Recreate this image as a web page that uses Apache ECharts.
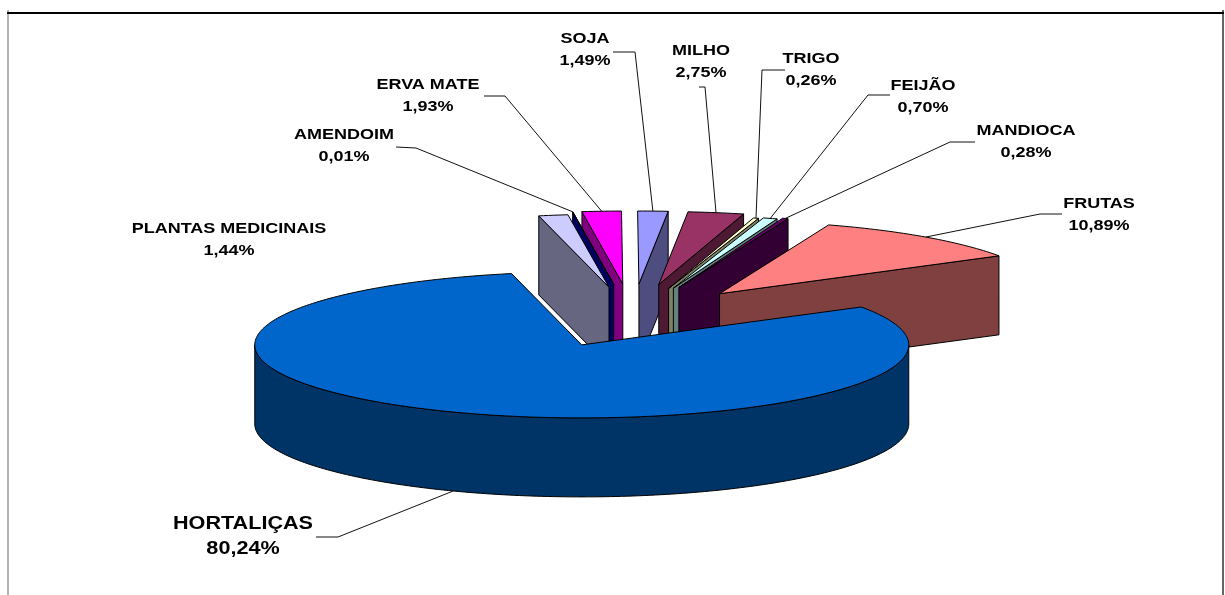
<!DOCTYPE html>
<html>
<head>
<meta charset="utf-8">
<title>Culturas</title>
<style>html,body{margin:0;padding:0;background:#fff}#chart{width:1225px;height:595px}</style>
<script src="https://cdn.jsdelivr.net/npm/echarts@6/dist/echarts.min.js"></script>
</head>
<body>
<div id="chart"></div>
<script>
// Crops in clockwise order, starting from the top of the pie.
var categories = ['PLANTAS MEDICINAIS', 'AMENDOIM', 'ERVA MATE', 'SOJA', 'MILHO', 'TRIGO', 'FEIJÃO', 'MANDIOCA', 'FRUTAS', 'HORTALIÇAS'];
var shares = [1.44, 0.01, 1.93, 1.49, 2.75, 0.26, 0.70, 0.28, 10.89, 80.24];
var shareLabels = ['1,44%', '0,01%', '1,93%', '1,49%', '2,75%', '0,26%', '0,70%', '0,28%', '10,89%', '80,24%'];
var explosion = [0.92, 1, 1, 1, 1, 0.9, 0.92, 0.95, 0.92, 0.86];
var topColors = ['#CCCCFF', '#000080', '#FF00FF', '#9999FF', '#993366', '#FFFFCC', '#CCFFFF', '#660066', '#FF8080', '#0066CC'];
var sideColors = ['#666680', '#000060', '#800080', '#4D4D80', '#4D1933', '#808066', '#668080', '#330033', '#804040', '#003366'];
// Stacking order of the pieces, back to front.
var paintOrder = [2, 1, 0, 3, 4, 5, 6, 7, 8, 9];

// Projection of the tilted pie.
var pie = { cx: 632.5, cy: 318, rx: 327, ry: 73, depth: 79, startAngle: 102.4, shiftX: 150, shiftY: 34 };

// Label centre and the first two points of each leader line.
var labelLayout = [
  { x: 229, y: 240, size: 15, gap: 22 },
  { x: 344, y: 146, size: 15, gap: 22, leader: [[396, 147], [416, 148]] },
  { x: 428, y: 96, size: 15, gap: 22, leader: [[484, 96], [505, 96]] },
  { x: 585, y: 50, size: 15, gap: 22, leader: [[613, 52], [635, 52]] },
  { x: 701, y: 61.5, size: 15, gap: 22, leader: [[699, 87], [705, 87]] },
  { x: 811, y: 70, size: 15, gap: 22, leader: [[785, 70], [762, 70]] },
  { x: 923, y: 97, size: 15, gap: 22, leader: [[890, 95], [868, 95]] },
  { x: 1026, y: 141.5, size: 15, gap: 22, leader: [[975, 142], [950, 142]] },
  { x: 1099, y: 214.5, size: 15, gap: 22, leader: [[1062, 214], [1040, 214]] },
  { x: 243, y: 536.5, size: 18, gap: 25, leader: [[316, 537], [338, 537]] }
];

var DEG = Math.PI / 180;
var total = shares.reduce(function (a, b) { return a + b; }, 0);

function sliceAngles(i) {
  var before = shares.slice(0, i).reduce(function (a, b) { return a + b; }, 0);
  var a0 = pie.startAngle - before / total * 360;
  var a1 = a0 - shares[i] / total * 360;
  return { from: a0, to: a1, mid: (a0 + a1) / 2 };
}
function apexOf(i) {
  var m = sliceAngles(i).mid * DEG;
  return [pie.cx + explosion[i] * pie.shiftX * Math.cos(m), pie.cy - explosion[i] * pie.shiftY * Math.sin(m)];
}
function rimPoint(apex, deg) {
  return [apex[0] + pie.rx * Math.cos(deg * DEG), apex[1] - pie.ry * Math.sin(deg * DEG)];
}
function drop(p) { return [p[0], p[1] + pie.depth]; }

function arcPoints(apex, from, to) {
  var pts = [], n = Math.max(2, Math.ceil(Math.abs(from - to)));
  for (var k = 0; k <= n; k++) pts.push(rimPoint(apex, from + (to - from) * k / n));
  return pts;
}

function poly(points, fill, z2) {
  return { type: 'polygon', shape: { points: points }, z2: z2,
    style: { fill: fill, stroke: '#000', lineWidth: 1, lineJoin: 'round' } };
}

function renderSlice(params, api) {
  var i = api.value(0);
  var z = paintOrder.indexOf(i) * 10 + 1;
  var ang = sliceAngles(i), apex = apexOf(i), kids = [];
  var rimFrom = rimPoint(apex, ang.from), rimTo = rimPoint(apex, ang.to);

  if (ang.mid > 90 && ang.from < 180) {
    // Left of the centre the leading cut face looks at the viewer.
    kids.push(poly([apex, rimFrom, drop(rimFrom), drop(apex)], sideColors[i], z));
  } else if (ang.to > 0) {
    // Right of the centre the trailing cut face does.
    kids.push(poly([apex, rimTo, drop(rimTo), drop(apex)], sideColors[i], z));
  } else {
    // The big slice shows its outer wall along the front half of the rim.
    var wall = arcPoints(apex, -180, 0);
    kids.push(poly(wall.concat(wall.map(drop).reverse()), sideColors[i], z));
  }
  kids.push(poly([apex].concat(arcPoints(apex, ang.from, ang.to)), topColors[i], z + 1));

  var lay = labelLayout[i];
  kids.push({
    type: 'text', z2: 200, x: lay.x, y: lay.y, scaleX: 1.2,
    style: {
      x: 0, y: 0, text: categories[i] + '\n' + shareLabels[i],
      align: 'center', verticalAlign: 'middle', fill: '#000',
      font: 'bold ' + lay.size + 'px "Liberation Sans", Arial, sans-serif',
      lineHeight: lay.gap
    }
  });
  if (lay.leader) {
    var rim = rimPoint(apex, ang.mid);
    if (ang.to < 0) rim = drop(rim);
    kids.push({
      type: 'polyline', z2: 150, shape: { points: lay.leader.concat([rim]) },
      style: { stroke: '#111', lineWidth: 1, fill: null }
    });
  }
  return { type: 'group', children: kids };
}

var chart = echarts.init(document.getElementById('chart'), null, { renderer: 'canvas' });
chart.setOption({
  animation: false,
  backgroundColor: '#fff',
  series: [{
    type: 'custom',
    coordinateSystem: 'none',
    renderItem: renderSlice,
    data: categories.map(function (name, i) { return { name: name, value: [i, shares[i]] }; })
  }],
  graphic: [
    { type: 'line', shape: { x1: 7, y1: 13, x2: 1224, y2: 13 }, style: { stroke: '#000', lineWidth: 2 }, z: 11 },
    { type: 'line', shape: { x1: 8, y1: 10, x2: 8, y2: 595 }, style: { stroke: '#666', lineWidth: 1 }, z: 10 },
    { type: 'line', shape: { x1: 1223, y1: 10, x2: 1223, y2: 595 }, style: { stroke: '#666', lineWidth: 2 }, z: 10 }
  ]
});
</script>
</body>
</html>
